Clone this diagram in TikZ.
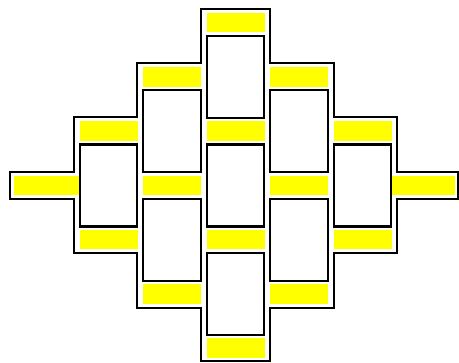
\documentclass[tikz,border=0pt]{standalone}
\definecolor{baryellow}{RGB}{255,255,0}
\tikzset{
  cellbox/.style={draw=black, line width=2.2pt, fill=white},
  barfill/.style={fill=baryellow, draw=none},
  outerline/.style={draw=black, line width=2pt, line join=miter}
}
\begin{document}
\begin{tikzpicture}[x=1pt,y=-1pt]
\useasboundingbox (0,0) rectangle (459,363);
% outline coordinates
\def\Lone{73.75}\def\Ltwo{137.25}\def\Lthree{200.75}
\def\Rthree{270.25}\def\Rfour{333.75}\def\Rfive{397.25}
\def\Tzero{9}\def\Tone{63.25}\def\Ttwo{117.5}\def\Tthree{171.75}
\def\Bthree{199.25}\def\Bfour{253.5}\def\Bfive{307.75}\def\Bsix{361.5}
% yellow bars in the columns
\foreach \c/\k in {3/0,3/2,3/4,3/6,2/1,2/3,2/5,4/1,4/3,4/5,1/2,1/4,5/2,5/4}{
  \fill[barfill] ({235.5+63.5*(\c-3)-29},{13+54.25*\k}) rectangle ({235.5+63.5*(\c-3)+29},{13+54.25*\k+19.5});
}
% end bars
\fill[barfill] (14,175.75) rectangle (79.75,195.25);
\fill[barfill] (391.25,175.75) rectangle (455,195.25);
% white boxes
\foreach \c/\k in {3/0,3/2,3/4,2/1,2/3,4/1,4/3,1/2,5/2}{
  \draw[cellbox] ({235.5+63.5*(\c-3)-28.75},{13.5+54.25*\k+22.5}) rectangle ({235.5+63.5*(\c-3)+28.75},{13.5+54.25*(\k+2)-4});
}
% outer staircase outline
\draw[outerline] (10,\Tthree) -- (\Lone,\Tthree) -- (\Lone,\Ttwo) -- (\Ltwo,\Ttwo) -- (\Ltwo,\Tone) -- (\Lthree,\Tone) -- (\Lthree,\Tzero) -- (\Rthree,\Tzero) -- (\Rthree,\Tone) -- (\Rfour,\Tone) -- (\Rfour,\Ttwo) -- (\Rfive,\Ttwo) -- (\Rfive,\Tthree) -- (457.5,\Tthree) -- (457.5,\Bthree) -- (\Rfive,\Bthree) -- (\Rfive,\Bfour) -- (\Rfour,\Bfour) -- (\Rfour,\Bfive) -- (\Rthree,\Bfive) -- (\Rthree,\Bsix) -- (\Lthree,\Bsix) -- (\Lthree,\Bfive) -- (\Ltwo,\Bfive) -- (\Ltwo,\Bfour) -- (\Lone,\Bfour) -- (\Lone,\Bthree) -- (10,\Bthree) -- cycle;
\end{tikzpicture}
\end{document}
